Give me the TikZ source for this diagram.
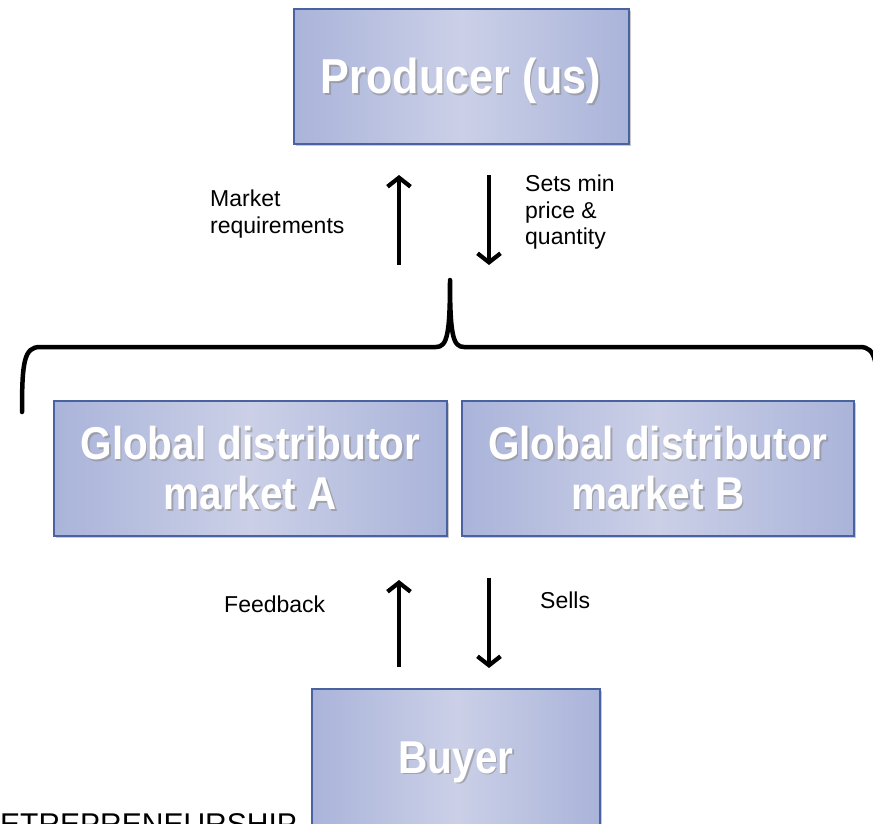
\documentclass[tikz,border=0pt]{standalone}
\usepackage{fontspec}
\setmainfont{Liberation Sans}
\newfontfamily\boxfont[FakeStretch=0.88]{Liberation Sans Bold}
\usetikzlibrary{arrows.meta,shadows}
\definecolor{boxedge}{HTML}{AAB4DA}
\definecolor{boxmid}{HTML}{CBD0E7}
\definecolor{boxline}{HTML}{4A62A0}
\tikzset{
  box/.style={draw=boxline, line width=1.6pt, left color=boxedge, right color=boxedge, middle color=boxmid,
    drop shadow={shadow xshift=2.5pt, shadow yshift=-2.5pt, opacity=0.35, fill=black!60},
    inner sep=0pt, anchor=north west},
  boxtext/.style={text=white, font=\boxfont\fontsize{#1}{50}\selectfont, align=center, inner sep=0pt},
  boxshade/.style={text=black!45, opacity=0.6, font=\boxfont\fontsize{#1}{50}\selectfont, align=center, inner sep=0pt},
  lbl/.style={font=\fontsize{23}{26.5}\selectfont, align=left, inner sep=0pt},
  flow/.style={line width=4.2pt, -{Straight Barb[length=9pt,width=23pt]}},
  bracket/.style={line width=4.5pt, line cap=round, line join=round},
}
\newcommand{\boxlabel}[4]{%
  \node[boxshade=#3] at ([xshift=1.6pt,yshift=-1.6pt]#1) {#4};
  \node[boxtext=#3] (#2) at (#1) {#4};}
\begin{document}
\begin{tikzpicture}[x=1pt,y=-1pt]
\useasboundingbox (0,0) rectangle (873,823);
\clip (0,0) rectangle (873,823);

% boxes
\node[box, minimum width=335pt, minimum height=135pt] (prod) at (293,8) {};
\node[box, minimum width=393pt, minimum height=135pt] (gA) at (53,400) {};
\node[box, minimum width=392pt, minimum height=135pt] (gB) at (461,400) {};
\node[box, minimum width=288pt, minimum height=150pt] (buy) at (311,688) {};

\boxlabel{461,81}{prodt}{49}{Producer (us)}
\boxlabel{gA.center}{gAt}{46}{Global distributor\\market A}
\boxlabel{gB.center}{gBt}{46}{Global distributor\\market B}
\boxlabel{456,762}{buyt}{46}{Buyer}

% arrows
\coordinate (u1s) at (399,265); \coordinate (u1e) at (399,175);
\coordinate (d1s) at (489,175); \coordinate (d1e) at (489,265);
\coordinate (u2s) at (399,667); \coordinate (u2e) at (399,580);
\coordinate (d2s) at (489,578); \coordinate (d2e) at (489,668);
\draw[flow] (u1s) -- (u1e);
\draw[flow] (d1s) -- (d1e);
\draw[flow] (u2s) -- (u2e);
\draw[flow] (d2s) -- (d2e);

% labels
\node[lbl, anchor=north west] (mr) at (210,190) {Market\\requirements};
\node[lbl, anchor=north west] (smp) at (525,175) {Sets min\\price \&\\quantity};
\node[lbl, anchor=base west] (fb) at (224,612) {Feedback};
\node[lbl, anchor=base west] (se) at (540,608) {Sells};

% bracket
\coordinate (bl) at (22,412);
\coordinate (bpk) at (450,280);
\coordinate (br) at (878,412);
\draw[bracket] (bl) .. controls (22,362) and (24,347) .. (40,347) -- (436,347)
  .. controls (447,347) and (450,335) .. (bpk)
  .. controls (450,335) and (453,347) .. (464,347) -- (860,347)
  .. controls (876,347) and (878,362) .. (br);

% cut-off footer text
\node[font=\fontsize{30}{32}\selectfont, anchor=base west, inner sep=0pt] (foot) at (0,834) {ETREPRENEURSHIP};
\end{tikzpicture}
\end{document}
